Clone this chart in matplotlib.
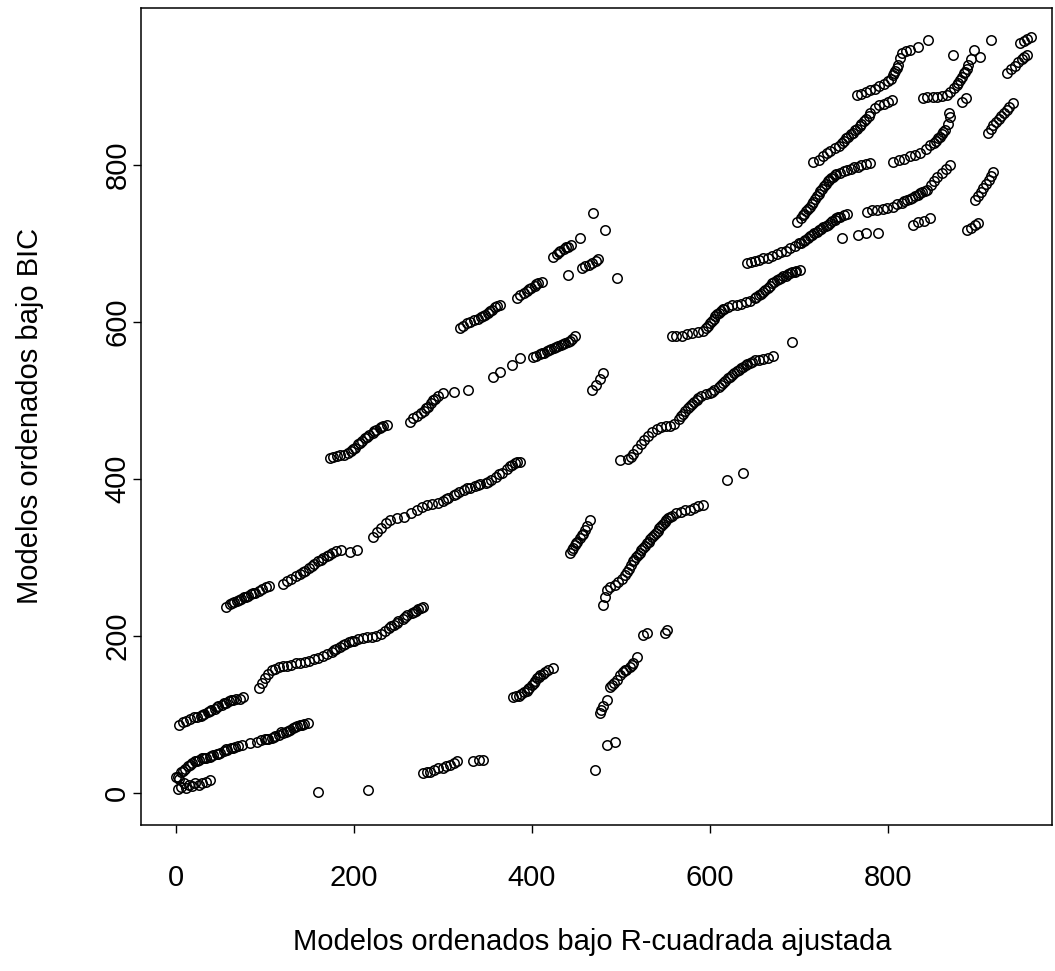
import matplotlib
matplotlib.use("Agg")
import matplotlib.pyplot as plt

plt.rcParams['font.family'] = ['Liberation Sans', 'DejaVu Sans']

# ---- data: rank under adjusted R^2 (x) vs rank under BIC (y) ----
seg_a1_x = [0, 2, 4, 6, 9, 12, 15, 18, 22, 26, 30, 34, 38]
seg_a1_y = [20, 5, 18, 8, 12, 6, 10, 9, 12, 10, 13, 14, 16]

seg_a2_x = [2, 6, 10, 14, 18, 22, 26, 30, 34, 38, 42, 46, 50, 54, 58, 62, 66, 70, 74, 83, 91,
            96, 100, 104, 108, 112, 116, 120, 124, 128, 132, 136, 140, 144, 148, 160, 216,
            8, 16, 24, 32, 40, 48, 56, 64, 102, 110, 118, 126, 134, 142]
seg_a2_y = [20, 26, 30, 34, 38, 40, 42, 44, 45, 46, 48, 49, 51, 53, 55, 57, 58, 60, 61, 64, 65,
            67, 68, 69, 70, 72, 74, 76, 78, 80, 83, 85, 86, 88, 89, 1, 3,
            28, 36, 41, 44, 47, 50, 56, 57, 69, 71, 77, 79, 84, 87]

seg_b1_x = [4, 8, 12, 16, 20, 24, 28, 32, 36, 40, 44, 48, 52, 56, 60, 64, 68, 72, 76,
            30, 38, 46, 54, 62]
seg_b1_y = [87, 90, 92, 94, 96, 97, 98, 100, 103, 105, 107, 110, 112, 115, 117, 118, 119, 120, 122,
            99, 104, 109, 114, 118]

seg_b2_x = [94, 97, 100, 104, 108, 112, 116, 120, 125, 130, 135, 140, 145, 150, 155, 160, 165, 170,
            175, 180, 185, 190, 195, 200, 205, 210, 215, 220, 225, 230, 235, 240, 245, 250, 255,
            260, 265, 270, 275, 278, 178, 188, 198, 242, 248, 258, 268, 272]
seg_b2_y = [134, 140, 146, 152, 156, 158, 160, 161, 162, 163, 165, 166, 167, 168, 170, 172, 174, 177,
            180, 183, 186, 189, 192, 194, 196, 197, 198, 199, 200, 203, 206, 210, 214, 219, 222,
            226, 229, 232, 235, 237, 182, 188, 193, 212, 217, 224, 230, 234]

seg_c1_x = [57, 61, 65, 69, 73, 77, 81, 85, 89, 93, 97, 101, 105,
            120, 125, 130, 135, 140, 145, 150, 155, 160, 165, 170, 175, 180, 186, 196, 203,
            63, 71, 79, 87, 143, 153, 163, 172]
seg_c1_y = [237, 240, 243, 245, 247, 249, 251, 253, 255, 257, 260, 262, 264,
            266, 270, 273, 276, 279, 283, 287, 291, 295, 299, 302, 305, 308, 309, 307, 310,
            242, 246, 250, 254, 281, 289, 297, 303]

seg_c2_x = [221, 226, 231, 236, 241, 248, 256, 264, 271, 277, 282, 288, 294, 300, 306, 312, 318,
            324, 330, 336, 342, 348, 354, 360, 366, 372, 378, 383, 387,
            303, 315, 327, 339, 351, 363, 375, 381]
seg_c2_y = [326, 332, 338, 344, 347, 350, 352, 356, 361, 364, 367, 368, 369, 372, 376, 380, 383,
            386, 389, 391, 393, 395, 398, 403, 408, 413, 418, 421, 422,
            374, 381, 388, 392, 396, 406, 416, 420]

seg_d1_x = [173, 177, 181, 185, 189, 193, 197, 201, 205, 209, 213, 217, 221, 225, 229, 233, 237,
            263, 267, 271, 275, 279, 283, 287, 291, 295, 300, 313, 328,
            199, 207, 215, 223, 231, 281, 289]
seg_d1_y = [427, 428, 429, 430, 431, 433, 436, 440, 444, 448, 452, 456, 459, 462, 465, 467, 469,
            473, 477, 480, 484, 487, 492, 497, 502, 506, 510, 511, 513,
            438, 446, 454, 461, 466, 490, 500]

seg_d2_x = [319, 323, 327, 331, 335, 339, 343, 347, 351, 355, 359, 364, 383, 387, 391, 395, 399,
            403, 407, 411, 424, 428, 432, 436, 440, 444, 440, 454, 469, 482, 495,
            456, 460, 464, 468, 472, 474, 345, 353, 361, 397, 405, 430, 438]
seg_d2_y = [592, 595, 598, 600, 602, 604, 606, 609, 612, 615, 619, 622, 631, 634, 637, 640, 643,
            646, 649, 651, 683, 687, 690, 693, 696, 698, 660, 707, 739, 717, 656,
            669, 671, 673, 675, 677, 680, 608, 614, 620, 642, 648, 689, 695]

seg_d3_x = [356, 364, 378, 387, 401, 405, 409, 413, 417, 421, 425, 429, 433, 437, 441, 445, 448,
            468, 472, 476, 480, 411, 419, 427, 435, 443]
seg_d3_y = [530, 536, 545, 554, 555, 557, 559, 561, 563, 565, 567, 569, 571, 573, 575, 578, 582,
            513, 520, 527, 535, 560, 564, 568, 572, 576]

seg_d4_x = [379, 382, 385, 388, 391, 394, 397, 400, 403, 406, 409, 412, 415, 418, 424,
            278, 282, 286, 290, 294, 300, 304, 308, 312, 316, 334, 341, 345, 396, 402, 408]
seg_d4_y = [122, 123, 124, 126, 128, 130, 134, 138, 142, 146, 150, 152, 154, 156, 159,
            25, 26, 27, 29, 31, 32, 34, 36, 38, 40, 40, 42, 42, 132, 140, 148]

seg_e1_x = [443, 446, 448, 451, 454, 457, 460, 462, 465,
            471, 484, 493, 476, 478, 480, 484, 488, 492, 496, 499, 502, 506, 510, 514, 518,
            525, 529, 549, 552, 445, 450, 456, 490, 504, 512]
seg_e1_y = [306, 312, 316, 320, 325, 330, 335, 340, 348,
            29, 61, 65, 102, 106, 110, 118, 135, 140, 144, 150, 154, 157, 160, 166, 173,
            201, 204, 204, 207, 310, 318, 328, 138, 156, 163]

seg_e2_x = [480, 482, 484, 488, 493, 497, 501, 505, 509, 513, 517, 521, 525, 529, 533, 537, 541,
            545, 549, 553, 557, 562, 567, 572, 577, 582, 587, 592, 619, 637,
            507, 511, 515, 519, 523, 527, 531, 535, 539, 543, 547, 551, 555]
seg_e2_y = [239, 250, 259, 262, 265, 268, 272, 278, 285, 295, 300, 306, 312, 318, 323, 328, 334,
            340, 345, 350, 353, 356, 358, 360, 361, 363, 365, 367, 399, 408,
            281, 290, 297, 303, 309, 315, 320, 326, 331, 337, 343, 348, 352]

seg_e3_x = [499, 508, 511, 514, 518, 522, 526, 530, 535, 540, 545, 550, 555, 560, 565, 570, 575,
            580, 585, 590, 595, 600, 605, 610, 615, 620, 625, 630, 635, 640, 645, 650, 655, 660,
            665, 671, 692, 567, 572, 577, 582, 587, 602, 612, 617, 622, 627, 632, 637, 642, 647]
seg_e3_y = [424, 425, 428, 432, 438, 444, 450, 455, 460, 463, 466, 467, 468, 470, 476, 483, 490,
            496, 501, 505, 508, 510, 513, 517, 522, 528, 533, 537, 541, 545, 548, 551, 552, 553,
            554, 556, 575, 480, 487, 493, 498, 503, 511, 519, 525, 530, 535, 539, 543, 546, 549]

seg_f_x = [557, 562, 568, 574, 580, 586, 592, 596, 600, 604, 608, 612, 616, 620, 625, 630, 635,
           640, 645, 650, 655, 660, 665, 670, 675, 680, 685, 690, 695, 701,
           598, 602, 606, 610, 614, 652, 657, 662, 667, 672, 677, 682, 687, 692, 697]
seg_f_y = [582, 582, 582, 585, 586, 587, 588, 592, 598, 604, 610, 614, 617, 619, 621, 622, 623,
           625, 627, 630, 634, 638, 643, 649, 653, 656, 659, 662, 664, 666,
           595, 601, 607, 612, 616, 632, 636, 641, 646, 651, 655, 658, 661, 663, 665]

seg_g_x = [642, 646, 650, 655, 660, 665, 670, 675, 680, 685, 690, 695, 700, 705, 710, 715, 720,
           725, 730, 735, 740, 746, 750, 754, 748, 766, 775, 789,
           702, 707, 712, 717, 722, 727, 732, 737, 742, 744]
seg_g_y = [675, 676, 678, 679, 681, 682, 684, 686, 689, 691, 694, 697, 700, 703, 707, 711, 715,
           719, 722, 726, 730, 734, 736, 738, 707, 711, 713, 713,
           701, 705, 709, 713, 717, 721, 724, 728, 732, 734]

seg_h_x = [698, 702, 706, 710, 714, 718, 722, 726, 730, 734, 738, 742, 746, 750, 754, 758, 762,
           766, 770, 775, 780, 704, 708, 712, 716, 720, 724, 728, 732, 736, 740]
seg_h_y = [727, 733, 738, 744, 750, 756, 763, 770, 776, 781, 785, 788, 790, 792, 794, 795, 797,
           798, 800, 801, 803, 736, 741, 747, 753, 760, 767, 773, 779, 783, 787]

seg_i_x = [716, 722, 727, 731, 735, 740, 745, 750, 755, 760, 765, 770, 775, 780, 785, 790, 795,
           800, 804, 748, 753, 758, 763, 768, 773, 778]
seg_i_y = [804, 806, 812, 815, 818, 821, 824, 830, 836, 841, 846, 852, 859, 866, 872, 876, 878,
           880, 883, 828, 834, 839, 844, 850, 856, 863]

seg_j_x = [765, 770, 775, 780, 785, 790, 795, 800, 805, 808, 811, 813, 815, 820, 825, 833, 845,
           803, 807, 810]
seg_j_y = [889, 891, 893, 895, 897, 900, 903, 907, 914, 920, 928, 936, 943, 945, 947, 950, 959,
           910, 917, 924]

seg_k_x = [806, 812, 818, 824, 830, 836, 842, 847, 851, 856, 860, 864, 867, 870, 868, 854, 858, 862]
seg_k_y = [804, 806, 808, 811, 813, 815, 820, 825, 828, 834, 839, 845, 852, 861, 866, 831, 836, 842]

seg_l_x = [839, 844, 850, 855, 860, 866, 870, 874, 877, 881, 885, 888, 890, 893, 896, 873, 903,
           915, 883, 887, 879, 883, 886]
seg_l_y = [885, 886, 887, 887, 888, 889, 893, 898, 902, 908, 917, 922, 927, 935, 946, 940, 937,
           959, 880, 885, 905, 912, 919]

seg_m_x = [776, 782, 788, 794, 799, 805, 810, 815, 821, 827, 833, 838, 844, 848, 852, 855, 860,
           865, 870, 828, 834, 840, 847, 818, 824, 830, 836, 841]
seg_m_y = [740, 742, 743, 744, 745, 747, 750, 752, 755, 758, 762, 765, 768, 774, 780, 785, 790,
           795, 800, 724, 727, 729, 732, 754, 757, 760, 764, 767]

seg_n_x = [889, 893, 897, 901, 898, 901, 904, 907, 910, 913, 916, 918,
           912, 915, 918, 921, 924, 927, 930, 933, 936, 940,
           934, 938, 942, 946, 950, 953, 956, 948, 952, 956, 960]
seg_n_y = [717, 720, 723, 726, 755, 760, 766, 771, 776, 781, 786, 791,
           841, 846, 851, 855, 858, 862, 866, 870, 874, 879,
           917, 922, 926, 931, 935, 938, 940, 955, 958, 961, 963]

segments = [
    (seg_a1_x, seg_a1_y), (seg_a2_x, seg_a2_y), (seg_b1_x, seg_b1_y), (seg_b2_x, seg_b2_y),
    (seg_c1_x, seg_c1_y), (seg_c2_x, seg_c2_y), (seg_d1_x, seg_d1_y), (seg_d2_x, seg_d2_y),
    (seg_d3_x, seg_d3_y), (seg_d4_x, seg_d4_y), (seg_e1_x, seg_e1_y), (seg_e2_x, seg_e2_y),
    (seg_e3_x, seg_e3_y), (seg_f_x, seg_f_y), (seg_g_x, seg_g_y), (seg_h_x, seg_h_y),
    (seg_i_x, seg_i_y), (seg_j_x, seg_j_y), (seg_k_x, seg_k_y), (seg_l_x, seg_l_y),
    (seg_m_x, seg_m_y), (seg_n_x, seg_n_y),
]

x_ticks = [0, 200, 400, 600, 800]
y_ticks = [0, 200, 400, 600, 800]
x_label = "Modelos ordenados bajo R-cuadrada ajustada"
y_label = "Modelos ordenados bajo BIC"

# ---- figure ----
W, H = 1055, 971
fig = plt.figure(figsize=(W / 100, H / 100), dpi=100)
ax = fig.add_axes([141 / W, 1 - 825 / H, (1052 - 141) / W, (825 - 8) / H])

for xs, ys in segments:
    ax.plot(xs, ys, linestyle='none', marker='o', markersize=6.8,
            markerfacecolor='none', markeredgecolor='black', markeredgewidth=1.1)

ax.set_xlim(-39, 984)
ax.set_ylim(-41, 1000)
ax.set_xticks(x_ticks)
ax.set_yticks(y_ticks)
ax.set_xticklabels([str(v) for v in x_ticks])
ax.set_yticklabels([str(v) for v in y_ticks], rotation=90, va='center')
ax.tick_params(axis='both', direction='out', length=6, width=1, colors='black', labelsize=21)
ax.tick_params(axis='x', pad=22)
ax.tick_params(axis='y', pad=1)
for s in ax.spines.values():
    s.set_linewidth(1.1)

fig.text(592 / W, 1 - 942 / H, x_label, ha='center', va='center', fontsize=21)
fig.text(30 / W, 1 - 416 / H, y_label, ha='center', va='center', rotation=90, fontsize=21)

fig.savefig("out.png", dpi=100, facecolor='white')
